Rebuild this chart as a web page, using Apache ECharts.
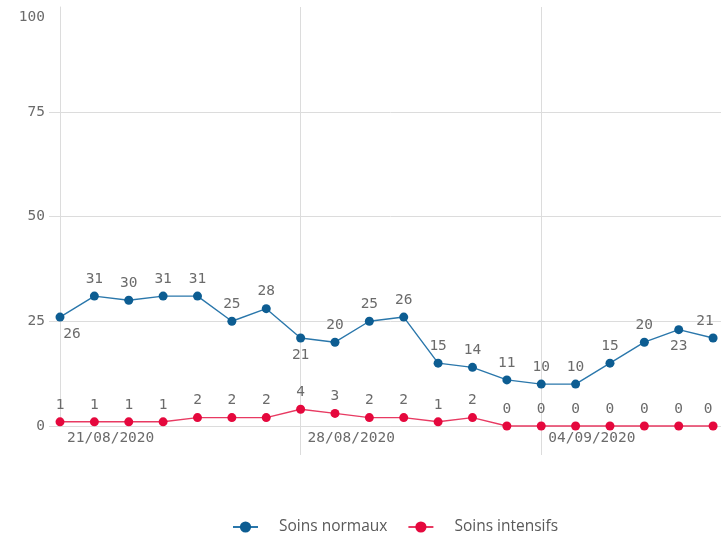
<!DOCTYPE html>
<html>
<head>
<meta charset="utf-8">
<script src="https://cdn.jsdelivr.net/npm/echarts@6/dist/echarts.min.js"></script>
<style>
  html, body { margin: 0; padding: 0; background: #fff; }
  #chart { width: 721px; height: 537px; }
</style>
</head>
<body>
<div id="chart"></div>
<script>
// data
const dates = [
  '21/08/2020', '22/08/2020', '23/08/2020', '24/08/2020', '25/08/2020',
  '26/08/2020', '27/08/2020', '28/08/2020', '29/08/2020', '30/08/2020',
  '31/08/2020', '01/09/2020', '02/09/2020', '03/09/2020', '04/09/2020',
  '05/09/2020', '06/09/2020', '07/09/2020', '08/09/2020', '09/09/2020'
]
const soinsNormaux = [26, 31, 30, 31, 31, 25, 28, 21, 20, 25, 26, 15, 14, 11, 10, 10, 15, 20, 23, 21]
const soinsIntensifs = [1, 1, 1, 1, 2, 2, 2, 4, 3, 2, 2, 1, 2, 0, 0, 0, 0, 0, 0, 0]
const yTicks = [0, 25, 50, 75, 100]
const weekTicks = [0, 7, 14]
const belowLabels = [0, 7, 18]

const mono = 'DejaVu Sans Mono'
const grey = '#6b6b6b'
const gridColor = '#dcdcdc'
const blue = '#0d5d92'
const red = '#e5083d'

const chart = echarts.init(document.getElementById('chart'))

const last = dates.length - 1

const normalData = soinsNormaux.map((v, i) => {
  const item = { value: [i, v] }
  if (belowLabels.includes(i)) item.label = { position: 'bottom' }
  if (i === 0) item.label = { position: 'bottom', offset: [12, 0] }
  if (i === last) item.label = { offset: [-8, 0] }
  return item
})
const intensData = soinsIntensifs.map((v, i) => {
  const item = { value: [i, v] }
  if (i === last) item.label = { offset: [-5, 0] }
  return item
})

chart.setOption({
  animation: false,
  grid: { left: 60, right: 0, top: 7, bottom: 111 },
  xAxis: {
    type: 'value',
    min: 0,
    max: 19.23,
    axisLine: { show: true, lineStyle: { color: gridColor } },
    axisTick: { show: true, customValues: [7, 14], length: 29, lineStyle: { color: gridColor } },
    splitLine: { show: true, lineStyle: { color: gridColor } },
    axisLabel: {
      customValues: weekTicks,
      formatter: v => dates[v],
      align: 'left',
      padding: [0, 0, 0, 7],
      margin: 5,
      fontFamily: mono,
      fontSize: 14.5,
      color: grey
    }
  },
  yAxis: {
    type: 'value',
    min: 0,
    max: 100,
    interval: 25,
    axisLine: { show: true, lineStyle: { color: gridColor } },
    axisTick: { show: true, customValues: [0, 25, 50, 75], length: 11, lineStyle: { color: gridColor } },
    splitLine: { show: true, lineStyle: { color: gridColor } },
    axisLabel: {
      customValues: yTicks,
      margin: 15,
      fontFamily: mono,
      fontSize: 14.5,
      color: grey,
      formatter: v => v === 100 ? '{t|100}' : String(v),
      rich: { t: { padding: [20, 0, 0, 0], fontFamily: mono, fontSize: 14.5, color: grey } }
    }
  },
  legend: {
    bottom: 2,
    left: 232,
    padding: 0,
    itemWidth: 25,
    itemHeight: 14,
    itemGap: 20,
    textStyle: { fontFamily: 'Open Sans', fontSize: 15.5, color: '#595959', padding: [0, 0, 0, 16] },
    data: ['Soins normaux', 'Soins intensifs']
  },
  series: [
    {
      name: 'Soins normaux',
      type: 'line',
      clip: false,
      symbol: 'circle',
      symbolSize: 9,
      itemStyle: { color: blue },
      lineStyle: { color: '#2a77ab', width: 1.4 },
      label: { show: true, position: 'top', distance: 5, fontFamily: mono, fontSize: 14.5, color: grey, formatter: p => p.value[1] },
      data: normalData
    },
    {
      name: 'Soins intensifs',
      type: 'line',
      clip: false,
      symbol: 'circle',
      symbolSize: 9,
      itemStyle: { color: red },
      lineStyle: { color: '#e83a62', width: 1.4 },
      label: { show: true, position: 'top', distance: 5, fontFamily: mono, fontSize: 14.5, color: grey, formatter: p => p.value[1] },
      data: intensData
    }
  ]
})
</script>
</body>
</html>
